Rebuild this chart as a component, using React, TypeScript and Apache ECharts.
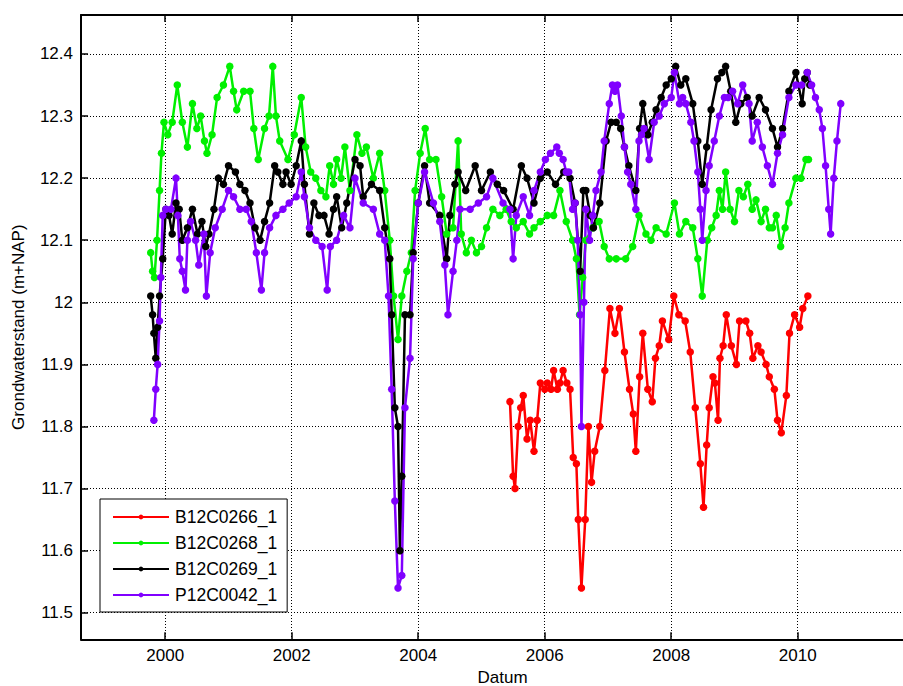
import React, { useEffect, useRef } from "react";
import * as echarts from "echarts";

// Axis extents (decimal years / m+NAP) and tick positions
const X_MIN = 1998.668;
const X_MAX = 2012.0;
const Y_MIN = 11.4572;
const Y_MAX = 12.4628;
const yearTicks = [2000, 2002, 2004, 2006, 2008, 2010];
const levelTicks = [11.5, 11.6, 11.7, 11.8, 11.9, 12.0, 12.1, 12.2, 12.3, 12.4];

const seriesNames = ["B12C0266_1", "B12C0268_1", "B12C0269_1", "P12C0042_1"];
const seriesColors = ["#ff0000", "#00f000", "#000000", "#8000ff"];

// Groundwater levels: [decimal year, level in m+NAP]
const b12c0266: [number, number][] = [
  [2005.45, 11.84], [2005.5, 11.72], [2005.53, 11.7], [2005.58, 11.8], [2005.62, 11.83],
  [2005.66, 11.85], [2005.72, 11.78], [2005.77, 11.81], [2005.83, 11.76], [2005.88, 11.81],
  [2005.93, 11.87], [2006.0, 11.86], [2006.04, 11.87], [2006.1, 11.86], [2006.14, 11.89],
  [2006.2, 11.86], [2006.24, 11.87], [2006.29, 11.89], [2006.35, 11.87], [2006.4, 11.86],
  [2006.45, 11.75], [2006.5, 11.74], [2006.53, 11.65], [2006.58, 11.54], [2006.64, 11.65],
  [2006.69, 11.8], [2006.74, 11.71], [2006.79, 11.76], [2006.87, 11.8], [2006.95, 11.89],
  [2007.03, 11.99], [2007.11, 11.95], [2007.18, 11.99], [2007.26, 11.92], [2007.34, 11.86],
  [2007.4, 11.82], [2007.44, 11.76], [2007.5, 11.88], [2007.55, 11.95], [2007.63, 11.86],
  [2007.7, 11.84], [2007.75, 11.91], [2007.81, 11.93], [2007.86, 11.97], [2007.96, 11.94],
  [2008.04, 12.01], [2008.12, 11.98], [2008.22, 11.97], [2008.3, 11.92], [2008.38, 11.83],
  [2008.46, 11.74], [2008.51, 11.67], [2008.56, 11.77], [2008.6, 11.83], [2008.66, 11.88],
  [2008.69, 11.87], [2008.74, 11.81], [2008.77, 11.91], [2008.82, 11.93], [2008.87, 11.98],
  [2008.95, 11.93], [2009.03, 11.9], [2009.08, 11.97], [2009.18, 11.97], [2009.24, 11.95],
  [2009.29, 11.91], [2009.37, 11.93], [2009.42, 11.92], [2009.5, 11.9], [2009.55, 11.88],
  [2009.63, 11.86], [2009.68, 11.81], [2009.74, 11.79], [2009.82, 11.85], [2009.87, 11.95],
  [2009.95, 11.98], [2010.03, 11.96], [2010.08, 11.99], [2010.16, 12.01],
];

const b12c0268: [number, number][] = [
  [1999.77, 12.08], [1999.8, 12.05], [1999.83, 12.04], [1999.87, 12.1], [1999.91, 12.18],
  [1999.94, 12.24], [1999.98, 12.29], [2000.04, 12.27], [2000.11, 12.29], [2000.19, 12.35],
  [2000.27, 12.29], [2000.35, 12.25], [2000.43, 12.32], [2000.5, 12.28], [2000.56, 12.3],
  [2000.62, 12.26], [2000.66, 12.24], [2000.74, 12.27], [2000.82, 12.33], [2000.92, 12.35],
  [2001.02, 12.38], [2001.08, 12.34], [2001.13, 12.31], [2001.24, 12.34], [2001.34, 12.34],
  [2001.4, 12.28], [2001.47, 12.23], [2001.57, 12.28], [2001.64, 12.3], [2001.7, 12.38],
  [2001.75, 12.3], [2001.81, 12.26], [2001.94, 12.23], [2002.04, 12.27], [2002.15, 12.33],
  [2002.22, 12.25], [2002.3, 12.21], [2002.38, 12.2], [2002.46, 12.18], [2002.54, 12.17],
  [2002.6, 12.22], [2002.66, 12.19], [2002.71, 12.23], [2002.78, 12.2], [2002.84, 12.25],
  [2002.92, 12.18], [2003.03, 12.27], [2003.11, 12.24], [2003.18, 12.25], [2003.29, 12.2],
  [2003.39, 12.24], [2003.47, 12.18], [2003.55, 12.1], [2003.61, 12.01], [2003.68, 11.94],
  [2003.74, 12.01], [2003.82, 12.05], [2003.89, 12.08], [2003.95, 12.18], [2004.03, 12.24],
  [2004.11, 12.28], [2004.18, 12.23], [2004.28, 12.23], [2004.37, 12.17], [2004.45, 12.11],
  [2004.55, 12.12], [2004.63, 12.26], [2004.68, 12.11], [2004.76, 12.08], [2004.84, 12.1],
  [2004.92, 12.08], [2005.0, 12.09], [2005.08, 12.12], [2005.18, 12.15], [2005.29, 12.14],
  [2005.39, 12.15], [2005.47, 12.13], [2005.55, 12.12], [2005.66, 12.13], [2005.76, 12.11],
  [2005.83, 12.12], [2005.93, 12.13], [2006.04, 12.14], [2006.14, 12.14], [2006.24, 12.18],
  [2006.34, 12.13], [2006.44, 12.1], [2006.5, 12.07], [2006.55, 11.98], [2006.6, 12.04],
  [2006.65, 12.1], [2006.76, 12.12], [2006.86, 12.13], [2006.94, 12.09], [2007.02, 12.07],
  [2007.13, 12.07], [2007.28, 12.07], [2007.39, 12.09], [2007.49, 12.14], [2007.6, 12.11],
  [2007.68, 12.1], [2007.76, 12.12], [2007.92, 12.11], [2008.05, 12.16], [2008.13, 12.11],
  [2008.23, 12.13], [2008.34, 12.12], [2008.42, 12.07], [2008.49, 12.01], [2008.57, 12.1],
  [2008.64, 12.12], [2008.71, 12.14], [2008.76, 12.18], [2008.81, 12.15], [2008.86, 12.21],
  [2008.93, 12.15], [2009.0, 12.13], [2009.07, 12.18], [2009.14, 12.17], [2009.21, 12.19],
  [2009.28, 12.15], [2009.34, 12.165], [2009.42, 12.13], [2009.49, 12.15], [2009.55, 12.12],
  [2009.6, 12.12], [2009.66, 12.14], [2009.73, 12.09], [2009.8, 12.12], [2009.86, 12.16],
  [2009.97, 12.2], [2010.05, 12.2], [2010.13, 12.23], [2010.17, 12.23],
];

const b12c0269: [number, number][] = [
  [1999.77, 12.01], [1999.8, 11.98], [1999.82, 11.95], [1999.85, 11.91], [1999.88, 11.96],
  [1999.91, 12.01], [1999.96, 12.07], [2000.01, 12.15], [2000.06, 12.14], [2000.11, 12.11],
  [2000.17, 12.16], [2000.22, 12.15], [2000.27, 12.1], [2000.35, 12.12], [2000.43, 12.15],
  [2000.51, 12.11], [2000.58, 12.13], [2000.64, 12.09], [2000.69, 12.11], [2000.77, 12.15],
  [2000.84, 12.2], [2000.92, 12.19], [2001.0, 12.22], [2001.11, 12.21], [2001.18, 12.19],
  [2001.26, 12.18], [2001.34, 12.16], [2001.42, 12.12], [2001.5, 12.1], [2001.57, 12.13],
  [2001.65, 12.16], [2001.73, 12.22], [2001.78, 12.21], [2001.86, 12.19], [2001.91, 12.21],
  [2001.99, 12.19], [2002.07, 12.22], [2002.15, 12.26], [2002.2, 12.19], [2002.28, 12.11],
  [2002.35, 12.16], [2002.43, 12.14], [2002.51, 12.14], [2002.59, 12.11], [2002.66, 12.15],
  [2002.71, 12.17], [2002.79, 12.12], [2002.87, 12.16], [2003.0, 12.23], [2003.08, 12.22],
  [2003.13, 12.17], [2003.26, 12.19], [2003.39, 12.18], [2003.47, 12.12], [2003.55, 12.07],
  [2003.58, 11.98], [2003.63, 11.83], [2003.68, 11.8], [2003.71, 11.6], [2003.74, 11.72],
  [2003.79, 11.98], [2003.87, 11.98], [2003.92, 12.08], [2004.0, 12.16], [2004.1, 12.22],
  [2004.18, 12.16], [2004.34, 12.14], [2004.45, 12.07], [2004.5, 12.14], [2004.58, 12.19],
  [2004.63, 12.21], [2004.75, 12.18], [2004.9, 12.22], [2005.0, 12.18], [2005.14, 12.21],
  [2005.25, 12.19], [2005.35, 12.18], [2005.5, 12.15], [2005.63, 12.22], [2005.72, 12.2],
  [2005.83, 12.16], [2005.93, 12.2], [2006.04, 12.21], [2006.17, 12.19], [2006.3, 12.21],
  [2006.4, 12.2], [2006.48, 12.16], [2006.56, 12.05], [2006.61, 12.18], [2006.65, 12.18],
  [2006.72, 12.14], [2006.77, 12.12], [2006.87, 12.16], [2006.97, 12.26], [2007.05, 12.29],
  [2007.13, 12.29], [2007.2, 12.28], [2007.26, 12.25], [2007.33, 12.22], [2007.44, 12.18],
  [2007.5, 12.28], [2007.55, 12.32], [2007.63, 12.27], [2007.7, 12.29], [2007.76, 12.31],
  [2007.84, 12.33], [2007.92, 12.35], [2008.0, 12.36], [2008.07, 12.38], [2008.15, 12.35],
  [2008.23, 12.36], [2008.34, 12.32], [2008.42, 12.26], [2008.49, 12.19], [2008.56, 12.25],
  [2008.63, 12.31], [2008.73, 12.36], [2008.8, 12.37], [2008.86, 12.38], [2008.94, 12.34],
  [2009.02, 12.29], [2009.1, 12.32], [2009.2, 12.33], [2009.28, 12.3], [2009.39, 12.33],
  [2009.49, 12.31], [2009.6, 12.28], [2009.68, 12.25], [2009.76, 12.28], [2009.86, 12.34],
  [2009.97, 12.37], [2010.07, 12.32], [2010.11, 12.36], [2010.15, 12.37], [2010.19, 12.35],
];

const p12c0042: [number, number][] = [
  [1999.82, 11.81], [1999.85, 11.86], [1999.88, 11.9], [1999.91, 11.97], [1999.93, 12.04],
  [1999.96, 12.14], [2000.01, 12.15], [2000.09, 12.15], [2000.17, 12.2], [2000.2, 12.14],
  [2000.23, 12.07], [2000.27, 12.05], [2000.32, 12.02], [2000.35, 12.1], [2000.4, 12.13],
  [2000.48, 12.1], [2000.53, 12.06], [2000.61, 12.11], [2000.65, 12.01], [2000.71, 12.08],
  [2000.79, 12.12], [2000.9, 12.15], [2001.0, 12.18], [2001.08, 12.17], [2001.18, 12.15],
  [2001.28, 12.15], [2001.36, 12.13], [2001.44, 12.08], [2001.52, 12.02], [2001.57, 12.08],
  [2001.65, 12.12], [2001.75, 12.14], [2001.86, 12.15], [2001.96, 12.16], [2002.07, 12.17],
  [2002.15, 12.21], [2002.2, 12.17], [2002.28, 12.12], [2002.38, 12.1], [2002.48, 12.09],
  [2002.56, 12.02], [2002.61, 12.09], [2002.71, 12.1], [2002.82, 12.14], [2002.92, 12.12],
  [2003.0, 12.2], [2003.13, 12.16], [2003.29, 12.15], [2003.39, 12.11], [2003.47, 12.1],
  [2003.53, 12.01], [2003.58, 11.86], [2003.63, 11.68], [2003.68, 11.54], [2003.74, 11.56],
  [2003.79, 11.83], [2003.87, 11.91], [2003.92, 12.07], [2004.0, 12.16], [2004.1, 12.21],
  [2004.24, 12.16], [2004.34, 12.13], [2004.42, 12.06], [2004.47, 11.98], [2004.55, 12.05],
  [2004.61, 12.1], [2004.66, 12.15], [2004.82, 12.15], [2004.95, 12.16], [2005.08, 12.17],
  [2005.18, 12.2], [2005.34, 12.16], [2005.45, 12.15], [2005.5, 12.07], [2005.55, 12.14],
  [2005.66, 12.17], [2005.76, 12.14], [2005.83, 12.18], [2005.93, 12.21], [2006.01, 12.23],
  [2006.09, 12.24], [2006.19, 12.25], [2006.23, 12.24], [2006.29, 12.23], [2006.34, 12.21],
  [2006.38, 12.21], [2006.44, 12.15], [2006.48, 12.16], [2006.52, 12.1], [2006.56, 11.98],
  [2006.58, 11.8], [2006.62, 12.0], [2006.65, 12.15], [2006.71, 12.1], [2006.76, 12.14],
  [2006.81, 12.18], [2006.89, 12.21], [2006.94, 12.26], [2007.02, 12.32], [2007.07, 12.35],
  [2007.11, 12.34], [2007.15, 12.35], [2007.21, 12.3], [2007.26, 12.25], [2007.31, 12.21],
  [2007.36, 12.19], [2007.44, 12.15], [2007.49, 12.26], [2007.53, 12.27], [2007.57, 12.28],
  [2007.65, 12.23], [2007.73, 12.29], [2007.81, 12.3], [2007.89, 12.32], [2008.0, 12.33],
  [2008.05, 12.37], [2008.13, 12.32], [2008.18, 12.33], [2008.23, 12.32], [2008.31, 12.29],
  [2008.36, 12.26], [2008.42, 12.21], [2008.46, 12.15], [2008.49, 12.1], [2008.55, 12.18],
  [2008.6, 12.22], [2008.68, 12.26], [2008.76, 12.3], [2008.84, 12.33], [2008.9, 12.33],
  [2008.97, 12.34], [2009.05, 12.32], [2009.13, 12.35], [2009.23, 12.32], [2009.28, 12.26],
  [2009.36, 12.29], [2009.44, 12.25], [2009.52, 12.22], [2009.6, 12.19], [2009.68, 12.24],
  [2009.76, 12.27], [2009.86, 12.33], [2009.97, 12.35], [2010.06, 12.35], [2010.15, 12.37],
  [2010.22, 12.35], [2010.28, 12.33], [2010.34, 12.31], [2010.39, 12.28], [2010.44, 12.22],
  [2010.49, 12.15], [2010.52, 12.11], [2010.57, 12.2], [2010.62, 12.26], [2010.68, 12.32],
];

const seriesData = [b12c0266, b12c0268, b12c0269, p12c0042];

const FONT = "'Liberation Sans', Arial, Helvetica, sans-serif";

export default function App() {
  const ref = useRef<HTMLDivElement>(null);

  useEffect(() => {
    if (!ref.current) return;
    const chart = echarts.init(ref.current, null, { renderer: "svg" });

    const frameLine = { show: true, onZero: false, lineStyle: { color: "#000", width: 2 } };
    const tickStyle = { color: "#000", width: 1.5 };
    const gridDots = { show: true, lineStyle: { color: "#000", width: 1, type: [1, 2] } };

    chart.setOption({
      animation: false,
      backgroundColor: "#fff",
      textStyle: { fontFamily: FONT },
      grid: {
        left: 81,
        top: 15,
        right: 903 - (81 + (X_MAX - X_MIN) * 63.25),
        bottom: 46.7,
        containLabel: false,
        outerBoundsMode: "none",
      },
      legend: {
        orient: "vertical",
        left: 100,
        top: 499,
        padding: [9, 10, 8, 12],
        itemGap: 8,
        itemWidth: 56,
        itemHeight: 6,
        backgroundColor: "#fff",
        borderColor: "#000",
        borderWidth: 1,
        borderRadius: 0,
        selectedMode: false,
        textStyle: { fontSize: 17.5, color: "#000", fontFamily: FONT, padding: [0, 0, 0, 1] },
        data: seriesNames,
      },
      xAxis: [
        {
          type: "value",
          min: X_MIN,
          max: X_MAX,
          position: "bottom",
          name: "Datum",
          nameLocation: "middle",
          nameGap: 29,
          nameTextStyle: { fontSize: 17, color: "#000", fontFamily: FONT },
          axisLine: frameLine,
          axisTick: { show: true, inside: true, length: 7, customValues: yearTicks, lineStyle: tickStyle },
          axisLabel: {
            customValues: yearTicks,
            margin: 8,
            color: "#000",
            fontSize: 17,
            fontFamily: FONT,
            formatter: (v: number) => String(Math.round(v)),
          },
          splitLine: gridDots,
        },
        {
          type: "value",
          min: X_MIN,
          max: X_MAX,
          position: "top",
          axisLine: frameLine,
          axisTick: { show: true, inside: true, length: 7, customValues: yearTicks, lineStyle: tickStyle },
          axisLabel: { show: false },
          splitLine: { show: false },
        },
      ],
      yAxis: [
        {
          type: "value",
          min: Y_MIN,
          max: Y_MAX,
          position: "left",
          name: "Grondwaterstand (m+NAP)",
          nameLocation: "middle",
          nameGap: 54,
          nameTextStyle: { fontSize: 17, color: "#000", fontFamily: FONT },
          axisLine: frameLine,
          axisTick: { show: true, inside: true, length: 7, customValues: levelTicks, lineStyle: tickStyle },
          axisLabel: {
            customValues: levelTicks,
            margin: 8,
            color: "#000",
            fontSize: 17,
            fontFamily: FONT,
            formatter: (v: number) => String(Math.round(v * 10) / 10),
          },
          splitLine: gridDots,
        },
      ],
      series: seriesNames.map((name, i) => ({
        name,
        type: "line",
        xAxisIndex: 0,
        yAxisIndex: 0,
        data: seriesData[i],
        symbol: "circle",
        symbolSize: 7.5,
        showSymbol: true,
        silent: true,
        color: seriesColors[i],
        itemStyle: { color: seriesColors[i] },
        lineStyle: { color: seriesColors[i], width: 2.5 },
        emphasis: { disabled: true },
      })),
    });

    return () => chart.dispose();
  }, []);

  return (
    <div
      ref={ref}
      style={{ position: "absolute", left: 0, top: 0, width: 903, height: 686, background: "#fff" }}
    />
  );
}
